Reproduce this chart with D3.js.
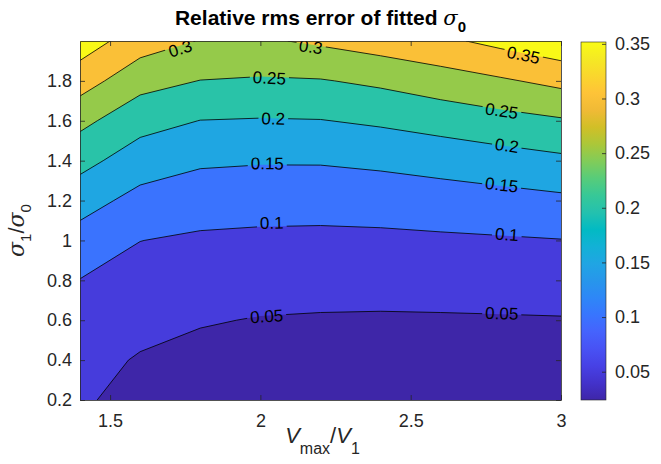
<!DOCTYPE html>
<html>
<head>
<meta charset="utf-8">
<script src="https://cdn.jsdelivr.net/npm/d3@7"></script>
<style>
  html, body { margin: 0; padding: 0; background: #fff; }
  svg { display: block; font-family: "Liberation Sans", Arial, Helvetica, sans-serif; }
</style>
</head>
<body>
<svg id="chart" width="661" height="464"></svg>
<script>
// Grid of the simulation: V_max/V_1 along x, sigma_1/sigma_0 along y
const vRatios = [1.4, 1.6, 1.8, 2.0, 2.2, 2.4, 2.6, 2.8, 3.0];
const sigmaRatios = [0.2, 0.4, 0.6, 0.8, 1.0, 1.2, 1.4, 1.6, 1.8, 2.0];

// Relative rms error of the fitted sigma_0 (one row per sigma ratio, one column per V ratio)
const rmsError = [
  [0.0568, 0.0330, 0.0280, 0.0260, 0.0250, 0.0250, 0.0250, 0.0250, 0.0241],
  [0.0657, 0.0462, 0.0366, 0.0350, 0.0340, 0.0340, 0.0340, 0.0350, 0.0340],
  [0.0824, 0.0642, 0.0533, 0.0478, 0.0459, 0.0451, 0.0456, 0.0464, 0.0474],
  [0.0988, 0.0823, 0.0731, 0.0688, 0.0671, 0.0669, 0.0684, 0.0702, 0.0726],
  [0.1304, 0.1005, 0.0929, 0.0902, 0.0892, 0.0901, 0.0927, 0.0953, 0.0986],
  [0.1697, 0.1346, 0.1218, 0.1186, 0.1181, 0.1211, 0.1267, 0.1329, 0.1402],
  [0.2162, 0.1742, 0.1571, 0.1537, 0.1540, 0.1601, 0.1693, 0.1796, 0.1901],
  [0.2627, 0.2185, 0.1992, 0.1968, 0.1984, 0.2075, 0.2199, 0.2329, 0.2448],
  [0.3228, 0.2672, 0.2490, 0.2447, 0.2471, 0.2594, 0.2769, 0.2939, 0.3131],
  [0.3760, 0.3240, 0.2978, 0.2935, 0.3077, 0.3239, 0.3402, 0.3633, 0.3861]
];

const contourLevels = [0.05, 0.1, 0.15, 0.2, 0.25, 0.3, 0.35];
const colorLimits = [0.0241, 0.3517];

const xTicks = [1.5, 2, 2.5, 3];
const yTicks = [0.2, 0.4, 0.6, 0.8, 1, 1.2, 1.4, 1.6, 1.8];
const colorbarTicks = [0.05, 0.1, 0.15, 0.2, 0.25, 0.3, 0.35];

// Where the inline contour labels sit: level, V ratio, sigma ratio
const labelLevels = [0.3, 0.3, 0.35, 0.25, 0.25, 0.2, 0.2, 0.15, 0.15, 0.1, 0.1, 0.05, 0.05];
const labelV      = [1.733, 2.168, 2.875, 2.030, 2.803, 2.043, 2.820, 2.023, 2.803, 2.038, 2.820, 2.021, 2.803];
const labelSigma  = [1.963, 1.972, 1.931, 1.816, 1.651, 1.612, 1.477, 1.387, 1.280, 1.089, 1.031, 0.621, 0.635];

// parula colormap (every third entry of the 64-colour table)
const parula = ["#3e26a8", "#4332cb", "#4741e5", "#4852f4", "#4563fd", "#3875fe", "#2e87f7", "#2796eb",
                "#20a5e3", "#12b1d6", "#02bac3", "#24c1ae", "#37c897", "#57cc7a", "#81cc59", "#abc739",
                "#d1bf27", "#f0ba36", "#fec338", "#fad62d", "#f5e924", "#f9fb15"];

const svg = d3.select("#chart");
const plot = { left: 80, right: 561, top: 41, bottom: 400 };
const cbar = { left: 581, right: 606, top: 42, bottom: 400 };
const axisColor = "#262626";

const x = d3.scaleLinear().domain([vRatios[0], vRatios[vRatios.length - 1]]).range([plot.left, plot.right]);
const y = d3.scaleLinear().domain([sigmaRatios[0], sigmaRatios[sigmaRatios.length - 1]]).range([plot.bottom, plot.top]);

const parulaScale = d3.scaleLinear()
  .domain(parula.map((_, i) => i / (parula.length - 1)))
  .range(parula)
  .interpolate(d3.interpolateRgb)
  .clamp(true);
const normalise = d3.scaleLinear().domain(colorLimits).range([0, 1]).clamp(true);
const colorOf = v => parulaScale(normalise(v));

const defs = svg.append("defs");
defs.append("clipPath").attr("id", "plotClip")
  .append("rect")
  .attr("x", plot.left).attr("y", plot.top)
  .attr("width", plot.right - plot.left).attr("height", plot.bottom - plot.top);

// ---- filled contours ----
const nx = vRatios.length, ny = sigmaRatios.length;
const contours = d3.contours().size([nx, ny]).thresholds(contourLevels)(rmsError.flat());

// d3.contours puts sample i at grid coordinate i + 0.5
const gridToV = d3.scaleLinear().domain([0.5, nx - 0.5]).range(x.domain());
const gridToS = d3.scaleLinear().domain([0.5, ny - 0.5]).range(y.domain());
const projection = d3.geoTransform({
  point(gx, gy) { this.stream.point(x(gridToV(gx)), y(gridToS(gy))); }
});
const contourPath = d3.geoPath(projection);

const field = svg.append("g").attr("clip-path", "url(#plotClip)");
field.append("rect")
  .attr("x", plot.left).attr("y", plot.top)
  .attr("width", plot.right - plot.left).attr("height", plot.bottom - plot.top)
  .attr("fill", colorOf(colorLimits[0]));
field.selectAll("path.band")
  .data(contours)
  .join("path")
  .attr("class", "band")
  .attr("d", contourPath)
  .attr("fill", d => colorOf(d.value));

// ---- contour labels (measured first so the lines can leave gaps) ----
function zAt(v, s) {
  const fi = Math.max(0, Math.min(nx - 1.0001, (v - vRatios[0]) / (vRatios[1] - vRatios[0])));
  const fj = Math.max(0, Math.min(ny - 1.0001, (s - sigmaRatios[0]) / (sigmaRatios[1] - sigmaRatios[0])));
  const i = Math.floor(fi), j = Math.floor(fj), a = fi - i, b = fj - j;
  return (1 - a) * (1 - b) * rmsError[j][i] + a * (1 - b) * rmsError[j][i + 1]
       + (1 - a) * b * rmsError[j + 1][i] + a * b * rmsError[j + 1][i + 1];
}
function labelAngle(px, py) {
  const h = 2;
  const gx = zAt(x.invert(px + h), y.invert(py)) - zAt(x.invert(px - h), y.invert(py));
  const gy = zAt(x.invert(px), y.invert(py + h)) - zAt(x.invert(px), y.invert(py - h));
  let tx = gy, ty = -gx;
  if (tx < 0) { tx = -tx; ty = -ty; }
  return Math.atan2(ty, tx) * 180 / Math.PI;
}

const labelData = labelLevels.map((lv, i) => {
  const px = x(labelV[i]), py = y(labelSigma[i]);
  return { level: lv, px, py, angle: labelAngle(px, py) };
});

const labelLayer = svg.append("g").attr("clip-path", "url(#plotClip)");
const labels = labelLayer.selectAll("text")
  .data(labelData)
  .join("text")
  .attr("transform", d => `translate(${d.px},${d.py}) rotate(${d.angle})`)
  .attr("text-anchor", "middle")
  .attr("dy", "0.36em")
  .attr("font-size", 17)
  .attr("fill", "#000")
  .text(d => d3.format("")(d.level));

labels.each(function (d) { d.width = this.getComputedTextLength(); });

const mask = defs.append("mask").attr("id", "labelGaps")
  .attr("maskUnits", "userSpaceOnUse")
  .attr("x", 0).attr("y", 0).attr("width", 661).attr("height", 464);
mask.append("rect").attr("x", 0).attr("y", 0).attr("width", 661).attr("height", 464).attr("fill", "#fff");
mask.selectAll("rect.gap")
  .data(labelData)
  .join("rect")
  .attr("class", "gap")
  .attr("x", d => -d.width / 2 - 3).attr("y", -8)
  .attr("width", d => d.width + 6).attr("height", 16)
  .attr("transform", d => `translate(${d.px},${d.py}) rotate(${d.angle})`)
  .attr("fill", "#000");

// ---- contour lines ----
svg.insert("g", () => labelLayer.node())
  .attr("clip-path", "url(#plotClip)")
  .append("g")
  .attr("mask", "url(#labelGaps)")
  .selectAll("path")
  .data(contours)
  .join("path")
  .attr("d", contourPath)
  .attr("fill", "none")
  .attr("stroke", "#000")
  .attr("stroke-width", 0.8)
  .attr("stroke-linejoin", "round");

// ---- axes ----
const tickLen = 5;
const styleAxis = g => {
  g.select(".domain").attr("stroke", axisColor).attr("stroke-width", 0.8);
  g.selectAll(".tick line").attr("stroke", axisColor).attr("stroke-width", 0.8);
  g.selectAll(".tick text").attr("fill", axisColor).attr("font-size", 18)
    .attr("font-family", '"Liberation Sans", Arial, sans-serif');
};

svg.append("g")
  .attr("transform", `translate(0,${plot.bottom})`)
  .call(d3.axisBottom(x).tickValues(xTicks).tickFormat(d3.format("")).tickSizeInner(-tickLen).tickSizeOuter(0).tickPadding(14))
  .call(styleAxis);
svg.append("g")
  .attr("transform", `translate(0,${plot.top})`)
  .call(d3.axisTop(x).tickValues(xTicks).tickFormat("").tickSizeInner(-tickLen).tickSizeOuter(0))
  .call(styleAxis);
svg.append("g")
  .attr("transform", `translate(${plot.left},0)`)
  .call(d3.axisLeft(y).tickValues(yTicks).tickFormat(d3.format("")).tickSizeInner(-tickLen).tickSizeOuter(0).tickPadding(8))
  .call(styleAxis);
svg.append("g")
  .attr("transform", `translate(${plot.right},0)`)
  .call(d3.axisRight(y).tickValues(yTicks).tickFormat("").tickSizeInner(-tickLen).tickSizeOuter(0))
  .call(styleAxis);

svg.selectAll(".domain").attr("fill", "none");

// ---- colorbar ----
const cb = d3.scaleLinear().domain(colorLimits).range([cbar.bottom, cbar.top]);
const grad = defs.append("linearGradient").attr("id", "parulaGrad")
  .attr("x1", 0).attr("y1", 1).attr("x2", 0).attr("y2", 0);
grad.selectAll("stop")
  .data(parula)
  .join("stop")
  .attr("offset", (_, i) => i / (parula.length - 1))
  .attr("stop-color", d => d);

svg.append("rect")
  .attr("x", cbar.left).attr("y", cbar.top)
  .attr("width", cbar.right - cbar.left).attr("height", cbar.bottom - cbar.top)
  .attr("fill", "url(#parulaGrad)")
  .attr("stroke", axisColor).attr("stroke-width", 0.6);

const cbAxis = svg.append("g")
  .attr("transform", `translate(${cbar.right},0)`)
  .call(d3.axisRight(cb).tickValues(colorbarTicks).tickFormat(d3.format("")).tickSizeInner(-4).tickSizeOuter(0).tickPadding(9))
  .call(styleAxis);
cbAxis.select(".domain").remove();

// ---- titles ----
const title = svg.append("text")
  .attr("x", (plot.left + plot.right) / 2).attr("y", 25)
  .attr("text-anchor", "middle")
  .attr("font-size", 21).attr("font-weight", "bold").attr("fill", "#000");
title.append("tspan").text("Relative rms error of fitted ");
title.append("tspan").attr("font-style", "italic").attr("font-weight", "normal").attr("font-family", '"DejaVu Serif", serif').text("σ");
title.append("tspan").attr("font-size", 15).attr("dy", 7).text("0");

const xLabel = svg.append("text")
  .attr("x", (plot.left + plot.right) / 2 + 2).attr("y", 443)
  .attr("text-anchor", "middle")
  .attr("font-size", 22).attr("fill", axisColor);
xLabel.append("tspan").attr("font-style", "italic").text("V");
xLabel.append("tspan").attr("font-size", 16).attr("dy", 11).text("max");
xLabel.append("tspan").attr("dy", -11).text("/");
xLabel.append("tspan").attr("font-style", "italic").text("V");
xLabel.append("tspan").attr("font-size", 16).attr("dy", 11).text("1");

const yLabel = svg.append("text")
  .attr("transform", `translate(24,${(plot.top + plot.bottom) / 2 + 10}) rotate(-90)`)
  .attr("text-anchor", "middle")
  .attr("font-size", 22).attr("fill", axisColor);
yLabel.append("tspan").attr("font-style", "italic").attr("font-family", '"DejaVu Serif", serif').text("σ");
yLabel.append("tspan").attr("font-size", 15).attr("dy", 7).text("1");
yLabel.append("tspan").attr("dy", -7).text("/");
yLabel.append("tspan").attr("font-style", "italic").attr("font-family", '"DejaVu Serif", serif').text("σ");
yLabel.append("tspan").attr("font-size", 15).attr("dy", 7).text("0");
</script>
</body>
</html>
